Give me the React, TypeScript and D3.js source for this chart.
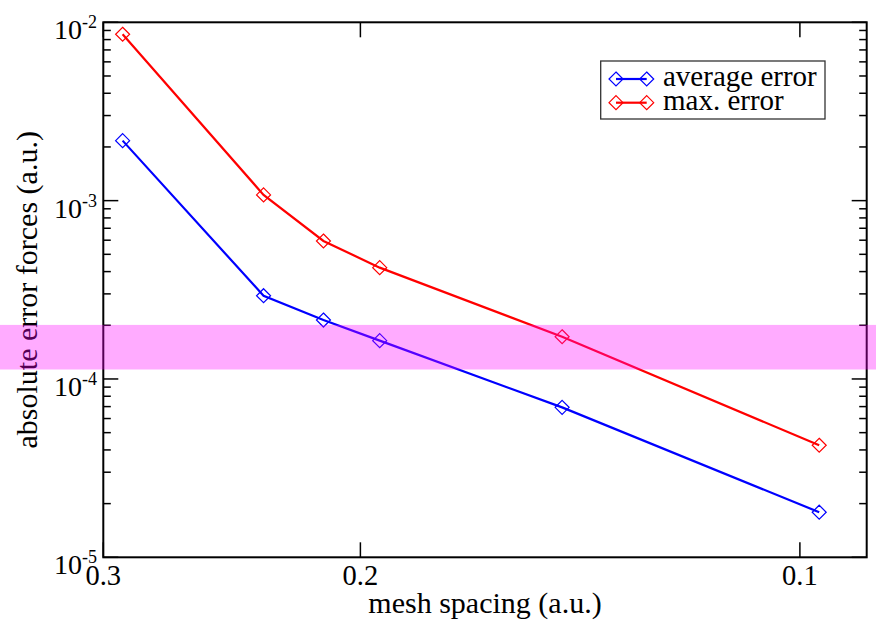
import React from "react";
import * as d3 from "d3";

const meshSpacing = [0.291, 0.233, 0.212, 0.194, 0.1455, 0.097];
const averageError = [2.17e-3, 2.93e-4, 2.14e-4, 1.64e-4, 6.93e-5, 1.79e-5];
const maxError = [8.57e-3, 1.077e-3, 5.94e-4, 4.21e-4, 1.725e-4, 4.25e-5];
const seriesNames = ["average error", "max. error"];
const xTicks = [0.3, 0.2, 0.1];
const xTickLabels = ["0.3", "0.2", "0.1"];
const yMajorTicks = [1e-5, 1e-4, 1e-3, 1e-2];
const yTickExponents = ["-5", "-4", "-3", "-2"];
const bandRange = [1.13e-4, 2.01e-4];

const W = 876;
const H = 621;
const L = 103.3, R = 866.7, T = 22.3, B = 557.3;
const FONT = '"Liberation Serif", "Times New Roman", Times, serif';

export default function App() {
  const x = d3.scaleLog().domain([0.3, 0.09]).range([L, R]);
  const y = d3.scaleLog().domain([1e-5, 1e-2]).range([B, T]);

  const series = [
    { name: seriesNames[0], values: averageError, color: "#0000ff" },
    { name: seriesNames[1], values: maxError, color: "#ff0000" },
  ];

  const line = d3
    .line<[number, number]>()
    .x((d) => x(d[0]))
    .y((d) => y(d[1]));

  const minorTicks: number[] = [];
  for (let e = -5; e < -2; e++) {
    for (let m = 2; m <= 9; m++) minorTicks.push(m * Math.pow(10, e));
  }

  const diamond = (cx: number, cy: number, r = 7) =>
    `M${cx},${cy - r}L${cx + r},${cy}L${cx},${cy + r}L${cx - r},${cy}Z`;

  const legendX = 600.7, legendY = 61, legendW = 224.3, legendH = 58;
  const rowY = [79, 102.7];
  const txt = { fontFamily: FONT };

  return (
    <div style={{ position: "fixed", left: 0, top: 0 }}>
      <svg width={W} height={H} style={{ display: "block", background: "#fff", fontFamily: FONT }}>
        <rect x={0} y={0} width={W} height={H} fill="#fff" />
        {series.map((s) => (
          <g key={s.name}>
            <path
              d={line(meshSpacing.map((m, i) => [m, s.values[i]]) as [number, number][]) || ""}
              fill="none"
              stroke={s.color}
              strokeWidth={2.2}
            />
            {meshSpacing.map((m, i) => (
              <path
                key={i}
                d={diamond(x(m), y(s.values[i]))}
                fill="none"
                stroke={s.color}
                strokeWidth={1.2}
              />
            ))}
          </g>
        ))}
        <rect x={L} y={T} width={R - L} height={B - T} fill="none" stroke="#000" strokeWidth={2} />
        {yMajorTicks.map((t) => (
          <g key={"ym" + t}>
            <line x1={L} x2={L + 15} y1={y(t)} y2={y(t)} stroke="#000" strokeWidth={1.5} />
            <line x1={R} x2={R - 15} y1={y(t)} y2={y(t)} stroke="#000" strokeWidth={1.5} />
          </g>
        ))}
        {minorTicks.map((t) => (
          <g key={"yn" + t}>
            <line x1={L} x2={L + 7.5} y1={y(t)} y2={y(t)} stroke="#000" strokeWidth={1.5} />
            <line x1={R} x2={R - 7.5} y1={y(t)} y2={y(t)} stroke="#000" strokeWidth={1.5} />
          </g>
        ))}
        {yMajorTicks.map((t, i) => (
          <text key={"yl" + t} x={97} y={y(t) + 17} textAnchor="end" style={txt} fontSize={28} fill="#000">
            10
            <tspan dy={-11} fontSize={18}>
              {yTickExponents[i]}
            </tspan>
          </text>
        ))}
        {xTicks.map((t) => (
          <g key={"xm" + t}>
            <line x1={x(t)} x2={x(t)} y1={B} y2={B - 15} stroke="#000" strokeWidth={1.5} />
            <line x1={x(t)} x2={x(t)} y1={T} y2={T + 15} stroke="#000" strokeWidth={1.5} />
          </g>
        ))}
        {xTicks.map((t, i) => (
          <text key={"xl" + t} x={x(t)} y={585} textAnchor="middle" style={txt} fontSize={28.5} fill="#000">
            {xTickLabels[i]}
          </text>
        ))}
        <text x={(L + R) / 2} y={613} textAnchor="middle" style={txt} fontSize={30} fill="#000">
          mesh spacing (a.u.)
        </text>
        <text
          transform={`translate(37,${(T + B) / 2}) rotate(-90)`}
          textAnchor="middle"
          style={txt}
          fontSize={30}
          fill="#000"
        >
          absolute error forces (a.u.)
        </text>
        <rect x={legendX} y={legendY} width={legendW} height={legendH} fill="#fff" stroke="#333" strokeWidth={1.3} />
        {series.map((s, i) => (
          <g key={"lg" + s.name}>
            <line x1={616} x2={646.7} y1={rowY[i]} y2={rowY[i]} stroke={s.color} strokeWidth={2.2} />
            <path d={diamond(616, rowY[i])} fill="none" stroke={s.color} strokeWidth={1.2} />
            <path d={diamond(646.7, rowY[i])} fill="none" stroke={s.color} strokeWidth={1.2} />
            <text x={663} y={rowY[i] + 7} style={txt} fontSize={29} fill="#000">
              {s.name}
            </text>
          </g>
        ))}
        <rect
          x={0}
          y={y(bandRange[1])}
          width={W}
          height={y(bandRange[0]) - y(bandRange[1])}
          fill="#ff00ff"
          fillOpacity={0.33}
        />
      </svg>
    </div>
  );
}
